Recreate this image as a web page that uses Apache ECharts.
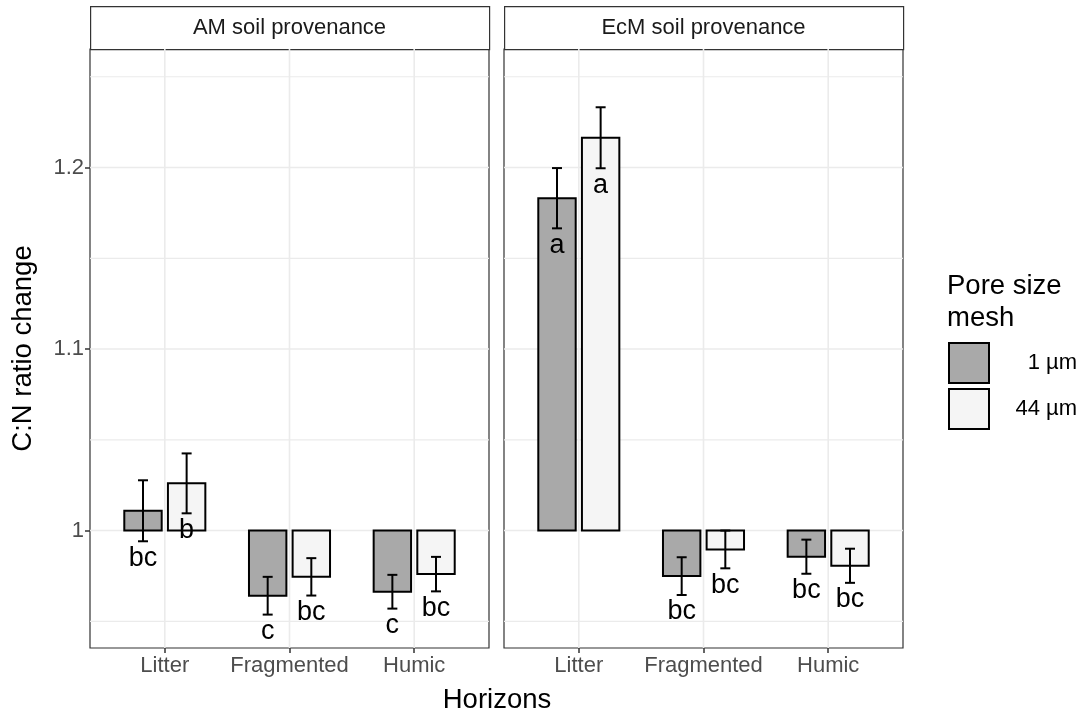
<!DOCTYPE html>
<html>
<head>
<meta charset="utf-8">
<script src="https://cdn.jsdelivr.net/npm/echarts@6/dist/echarts.min.js"></script>
<style>html,body{margin:0;padding:0;background:#fff;}#c{width:1084px;height:717px;}</style>
</head>
<body>
<div id="c"></div>
<script>
const categories = ['Litter', 'Fragmented', 'Humic'];
const panels = ['AM soil provenance', 'EcM soil provenance'];
const meshLabels = ['1 µm', '44 µm'];
const yTicks = [1, 1.1, 1.2];
const yMinor = [0.95, 1.05, 1.15, 1.25];

const amMean1 = [1.0109, 0.9641, 0.9663];
const amSe1 = [0.0168, 0.0104, 0.0093];
const amLetters1 = ['bc', 'c', 'c'];
const amMean44 = [1.0260, 0.9745, 0.9760];
const amSe44 = [0.0165, 0.0103, 0.0095];
const amLetters44 = ['b', 'bc', 'bc'];

const ecmMean1 = [1.1831, 0.9749, 0.9856];
const ecmSe1 = [0.0166, 0.0104, 0.0094];
const ecmLetters1 = ['a', 'bc', 'bc'];
const ecmMean44 = [1.2164, 0.9896, 0.9806];
const ecmSe44 = [0.0168, 0.0104, 0.0094];
const ecmLetters44 = ['a', 'bc', 'bc'];

const FONT = '"Liberation Sans", Arial, sans-serif';
const fills = ['#A9A9A9', '#F5F5F5'];
const offsets = [-0.175, 0.175];
const BASE = 1;

function barSeries(panel, k, means, ses, letters) {
  const data = means.map((m, i) => [i + 1, m, ses[i]]);
  return {
    type: 'custom', name: meshLabels[k], xAxisIndex: panel, yAxisIndex: panel, z: 5,
    itemStyle: { color: fills[k], borderColor: '#000', borderWidth: 2 },
    data: data,
    renderItem: function (params, api) {
      const x = api.value(0) + offsets[k];
      const m = api.value(1), se = api.value(2);
      const a = api.coord([x - 0.15, m]);
      const b = api.coord([x + 0.15, BASE]);
      const top = api.coord([x, m + se]);
      const bot = api.coord([x, m - se]);
      const c1 = api.coord([x - 0.04, m]);
      const c2 = api.coord([x + 0.04, m]);
      const lw = 2;
      return {
        type: 'group',
        children: [
          { type: 'rect', shape: { x: a[0], y: Math.min(a[1], b[1]), width: b[0] - a[0], height: Math.abs(b[1] - a[1]) },
            style: { fill: fills[k], stroke: '#000', lineWidth: 2 } },
          { type: 'line', shape: { x1: top[0], y1: top[1], x2: bot[0], y2: bot[1] }, style: { stroke: '#000', lineWidth: lw } },
          { type: 'line', shape: { x1: c1[0], y1: top[1], x2: c2[0], y2: top[1] }, style: { stroke: '#000', lineWidth: lw } },
          { type: 'line', shape: { x1: c1[0], y1: bot[1], x2: c2[0], y2: bot[1] }, style: { stroke: '#000', lineWidth: lw } },
          { type: 'text', x: bot[0], y: bot[1] + 17,
            style: { text: letters[params.dataIndex], fontSize: 27, fontFamily: FONT, fill: '#000', align: 'center', verticalAlign: 'middle' } }
        ]
      };
    }
  };
}

function hGridSeries(panel, values, width) {
  return {
    type: 'custom', xAxisIndex: panel, yAxisIndex: panel, silent: true, z: 1,
    data: values.map(v => [1, v]),
    renderItem: function (params, api) {
      const cs = params.coordSys;
      const p = api.coord([1, api.value(1)]);
      return { type: 'line', shape: { x1: cs.x, y1: p[1], x2: cs.x + cs.width, y2: p[1] }, style: { stroke: '#EBEBEB', lineWidth: width } };
    }
  };
}
function vGridSeries(panel) {
  return {
    type: 'custom', xAxisIndex: panel, yAxisIndex: panel, silent: true, z: 1,
    data: categories.map((c, i) => [i + 1, 1]),
    renderItem: function (params, api) {
      const cs = params.coordSys;
      const p = api.coord([api.value(0), 1]);
      return { type: 'line', shape: { x1: p[0], y1: cs.y, x2: p[0], y2: cs.y + cs.height }, style: { stroke: '#EBEBEB', lineWidth: 1.6 } };
    }
  };
}

const gridL = [90, 504], gridW = 399, gridTop = 49, gridH = 599;
const yMin = 0.9353, yMax = 1.2653;

const xAxes = [0, 1].map(p => ({
  type: 'value', gridIndex: p, min: 0.4, max: 3.6,
  splitLine: { show: false }, axisLine: { show: false },
  axisTick: { show: true, customValues: [1, 2, 3], length: 5, lineStyle: { color: '#333', width: 1.5 } },
  axisLabel: { customValues: [1, 2, 3], formatter: v => categories[Math.round(v) - 1], fontSize: 22, color: '#4D4D4D', fontFamily: FONT, margin: 7 }
}));
const yAxes = [0, 1].map(p => ({
  type: 'value', gridIndex: p, min: yMin, max: yMax,
  splitLine: { show: false }, axisLine: { show: false },
  axisTick: { show: p === 0, customValues: yTicks, length: 5, lineStyle: { color: '#333', width: 1.5 } },
  axisLabel: { show: p === 0, customValues: yTicks, formatter: v => String(Math.round(v * 10) / 10), fontSize: 22, color: '#4D4D4D', fontFamily: FONT, margin: 6 },
  name: p === 0 ? 'C:N ratio change' : '', nameLocation: 'middle', nameGap: 53,
  nameTextStyle: { fontSize: 27.5, color: '#000', fontFamily: FONT }
}));

const series = [];
[0, 1].forEach(p => {
  series.push(hGridSeries(p, yMinor, 1.2));
  series.push(hGridSeries(p, yTicks, 1.6));
  series.push(vGridSeries(p));
});
series.push(barSeries(0, 0, amMean1, amSe1, amLetters1));
series.push(barSeries(0, 1, amMean44, amSe44, amLetters44));
series.push(barSeries(1, 0, ecmMean1, ecmSe1, ecmLetters1));
series.push(barSeries(1, 1, ecmMean44, ecmSe44, ecmLetters44));

const graphics = [];
panels.forEach((t, p) => {
  graphics.push({ type: 'rect', left: gridL[p], top: 6, shape: { width: gridW, height: 43 }, style: { fill: '#fff', stroke: '#333', lineWidth: 1.2 } });
  graphics.push({ type: 'text', x: gridL[p] + gridW / 2, y: 28, style: { text: t, fontSize: 22, fontFamily: FONT, fill: '#1A1A1A', align: 'center', verticalAlign: 'middle' } });
});
graphics.push({ type: 'text', x: 497, y: 700, style: { text: 'Horizons', fontSize: 27.5, fontFamily: FONT, fill: '#000', align: 'center', verticalAlign: 'middle' } });
graphics.push({ type: 'text', x: 947, y: 270, style: { text: 'Pore size\nmesh', fontSize: 27.5, lineHeight: 32, fontFamily: FONT, fill: '#000', align: 'left', verticalAlign: 'top' } });

const chart = echarts.init(document.getElementById('c'), null, { renderer: 'canvas' });
chart.setOption({
  animation: false,
  backgroundColor: '#fff',
  grid: [0, 1].map(p => ({ left: gridL[p], top: gridTop, width: gridW, height: gridH, show: true, borderColor: '#333', borderWidth: 1.2, backgroundColor: '#fff', containLabel: false })),
  xAxis: xAxes,
  yAxis: yAxes,
  legend: {
    orient: 'vertical', left: 948, top: 342, padding: 0, itemWidth: 40, itemHeight: 40, itemGap: 4,
    icon: 'rect',
    data: meshLabels.map((n, k) => ({ name: n, itemStyle: { color: fills[k], borderColor: '#000', borderWidth: 2 } })),
    formatter: '{a|{name}}',
    textStyle: { fontFamily: FONT, fontSize: 22, color: '#000', rich: { a: { width: 83, align: 'right', fontSize: 22, fontFamily: FONT } } }
  },
  graphic: graphics,
  series: series
});
</script>
</body>
</html>
